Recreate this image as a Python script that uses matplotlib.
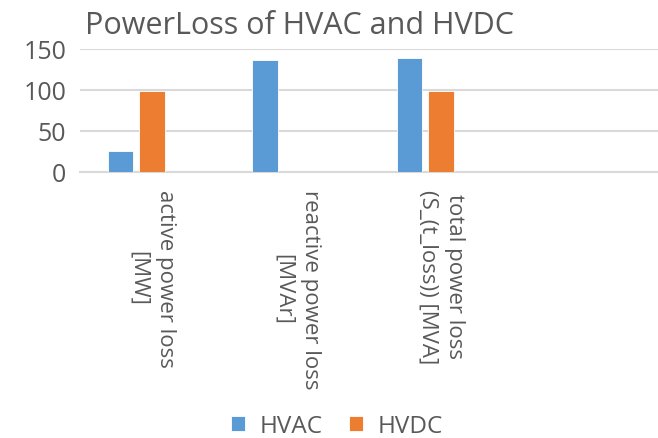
import matplotlib.pyplot as plt
import numpy as np

plt.rcParams['font.family'] = ['Open Sans', 'DejaVu Sans']

categories = ["active power loss\n[MW]", "reactive power loss\n[MVAr]", "total power loss\n(S_(t_loss)) [MVA]"]
hvac = [25.6, 137, 139]
hvdc = [99, 0, 99]
series_names = ["HVAC", "HVDC"]
yticks = [0, 50, 100, 150]

grey = '#595959'
grid_col = '#d9d9d9'

fig = plt.figure(figsize=(6.58, 4.39), dpi=100)
ax = fig.add_axes([80 / 658, 1 - 173 / 439, 1 - 80 / 658, 123 / 439])

x = np.arange(len(categories))
w = 0.178
ax.bar(x - 0.22, hvac, w, color='#5B9BD5', edgecolor='white', linewidth=0.6, label=series_names[0], zorder=3)
ax.bar(x, hvdc, w, color='#ED7D31', edgecolor='white', linewidth=0.6, label=series_names[1], zorder=3)

# excel left room for a 4th (empty) category
ax.set_xlim(-0.5, 3.5)
ax.set_ylim(0, 150)
ax.set_yticks(yticks)
ax.set_xticks(x, categories, rotation=270, ha='center', va='top',
              multialignment='center', linespacing=1.4)
ax.grid(axis='y', color=grid_col, linewidth=1.5, zorder=0)
for s in ['top', 'right', 'left']:
    ax.spines[s].set_visible(False)
ax.spines['bottom'].set_color(grid_col)
ax.spines['bottom'].set_linewidth(1.5)
ax.tick_params(axis='y', length=0, labelsize=18, labelcolor=grey, pad=10)
ax.tick_params(axis='x', length=0, labelsize=16, labelcolor=grey, pad=12)

fig.text(85 / 658, 1 - 26 / 439, "PowerLoss of HVAC and HVDC", fontsize=22,
         color=grey, ha='left', va='center')

leg = fig.legend(loc='center', bbox_to_anchor=(337 / 658, 1 - 427 / 439), ncol=2,
                 frameon=False, fontsize=17.5, handlelength=0.55, handleheight=0.55,
                 handletextpad=0.6, columnspacing=1.1)
for t in leg.get_texts():
    t.set_color(grey)

plt.savefig('out.png', dpi=100)
